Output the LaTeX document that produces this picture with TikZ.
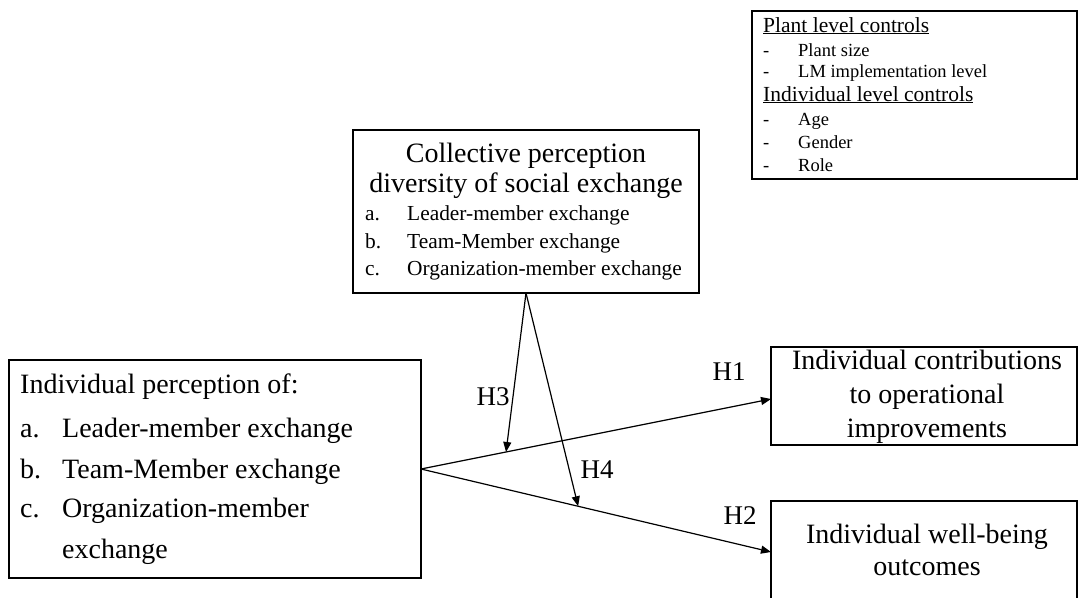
\documentclass[tikz,border=0pt]{standalone}
\usepackage{fontspec}
\setmainfont{Liberation Serif}
\usetikzlibrary{arrows.meta,calc}
\begin{document}
\begin{tikzpicture}[x=1pt,y=-1pt,
  box/.style={draw,line width=1.2pt,inner sep=0pt,outer sep=0pt},
  big/.style={font=\fontsize{28}{33}\selectfont,inner sep=0pt,anchor=base},
  mid/.style={font=\fontsize{21.4}{25}\selectfont,inner sep=0pt,anchor=base west},
  ctl/.style={font=\fontsize{18.5}{22}\selectfont,inner sep=0pt,anchor=base west},
  hd/.style={font=\fontsize{21.5}{25}\selectfont,inner sep=0pt,anchor=base west},
  hlab/.style={font=\fontsize{27}{31}\selectfont,inner sep=0pt},
  link/.style={line width=1.2pt,-{Triangle[length=10pt,width=8pt]}}]
\clip (0,0) rectangle (1078,597);
\fill[white] (0,0) rectangle (1078,597);
% boxes
\node[box,minimum width=325pt,minimum height=168pt] (ctlbox) at (914.5,95) {};
\node[box,minimum width=346pt,minimum height=163pt] (midbox) at (526,211.5) {};
\node[box,minimum width=412pt,minimum height=218pt] (lb) at (215,469) {};
\node[box,minimum width=306pt,minimum height=98pt] (rt) at (924,396) {};
\node[box,minimum width=306pt,minimum height=120pt] (rb) at (924,561) {};
% controls text
\node[hd] (c1) at (763,32) {\underline{Plant level controls}};
\node[ctl] (c2d) at (763,56) {-};
\node[ctl] (c2) at (798,56) {Plant size};
\node[ctl] (c3d) at (763,77) {-};
\node[ctl] (c3) at (798,77) {LM implementation level};
\node[hd] (c4) at (763,101) {\underline{Individual level controls}};
\node[ctl] (c5d) at (763,125) {-};
\node[ctl] (c5) at (798,125) {Age};
\node[ctl] (c6d) at (763,148) {-};
\node[ctl] (c6) at (798,148) {Gender};
\node[ctl] (c7d) at (763,171) {-};
\node[ctl] (c7) at (798,171) {Role};
% middle box text
\node[big] (m1) at (526,162) {Collective perception};
\node[big] (m2) at (526,192) {diversity of social exchange};
\node[mid] (m3l) at (365,220) {a.};
\node[mid] (m3) at (407,220) {Leader-member exchange};
\node[mid] (m4l) at (365,248) {b.};
\node[mid] (m4) at (407,248) {Team-Member exchange};
\node[mid] (m5l) at (365,275) {c.};
\node[mid] (m5) at (407,275) {Organization-member exchange};
% left box text
\node[big,anchor=base west] (l1) at (20,393) {Individual perception of:};
\node[big,anchor=base west] (l2l) at (20,437) {a.};
\node[big,anchor=base west] (l2) at (62,437) {Leader-member exchange};
\node[big,anchor=base west] (l3l) at (20,478) {b.};
\node[big,anchor=base west] (l3) at (62,478) {Team-Member exchange};
\node[big,anchor=base west] (l4l) at (20,517) {c.};
\node[big,anchor=base west] (l4) at (62,517) {Organization-member};
\node[big,anchor=base west] (l5) at (62,558) {exchange};
% right boxes text
\node[big] (r1) at (927,369) {Individual contributions};
\node[big] (r2) at (927,403) {to operational};
\node[big] (r3) at (927,437) {improvements};
\node[big] (r4) at (927,543) {Individual well-being};
\node[big] (r5) at (927,575) {outcomes};
% connectors
\coordinate (t1) at (771,399);
\coordinate (t2) at (771,552);
\draw[link] (lb.east) -- (t1);
\draw[link] (lb.east) -- (t2);
\coordinate (h3t) at ($(lb.east)!0.243!(t1)$);
\coordinate (h4t) at ($(lb.east)!0.449!(t2)$);
\draw[link] (midbox.south) -- (h3t);
\draw[link] (midbox.south) -- (h4t);
% labels
\node[hlab] (H1) at (729,372) {H1};
\node[hlab] (H2) at (740,516) {H2};
\node[hlab] (H3) at (493,397) {H3};
\node[hlab] (H4) at (597,470) {H4};
\end{tikzpicture}
\end{document}
